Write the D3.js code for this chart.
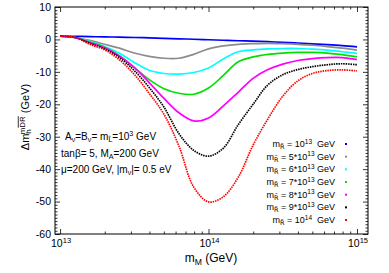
<!DOCTYPE html>
<html><head><meta charset="utf-8">
<script src="https://cdn.jsdelivr.net/npm/d3@7/dist/d3.min.js"></script>
<style>
body{margin:0;background:#fff}
text{font-family:"Liberation Sans",Arial,Helvetica,sans-serif;fill:#000}
</style>
</head><body>
<svg id="chart" width="389" height="273"></svg>
<script>
// m_M values (GeV)
const mM = [1.000e13,1.259e13,1.585e13,1.995e13,2.512e13,3.162e13,3.981e13,5.012e13,6.310e13,7.943e13,
            1.000e14,1.259e14,1.585e14,1.995e14,2.512e14,3.162e14,3.981e14,5.012e14,6.310e14,7.943e14,1.000e15];
// Δm_h (GeV) for each m_R̃
const dmR1e13 = [1.0,0.95,0.85,0.8,0.7,0.6,0.5,0.35,0.2,0.05,-0.1,-0.25,-0.4,-0.55,-0.7,-0.9,-1.1,-1.35,-1.6,-1.9,-2.3];
const dmR5e13 = [1.0,0.6,-0.3,-1.5,-2.7,-4.2,-5.2,-5.8,-5.8,-4.6,-2.9,-2.0,-1.5,-1.3,-1.2,-1.3,-1.5,-1.8,-2.2,-2.7,-3.3];
const dmR6e13 = [1.0,0.6,-0.6,-2.2,-4.3,-7.1,-9.5,-10.5,-10.7,-10.2,-8.8,-6.0,-3.8,-3.2,-2.9,-2.8,-2.8,-3.0,-3.3,-3.8,-4.3];
const dmR7e13 = [1.0,0.6,-0.8,-2.4,-5.0,-8.7,-12.4,-15.2,-16.6,-16.9,-15.0,-11.1,-6.9,-5.4,-4.6,-4.2,-4.0,-4.0,-4.2,-4.7,-5.4];
const dmR8e13 = [1.0,0.6,-1.0,-2.6,-5.2,-8.6,-13.3,-18.2,-22.6,-25.1,-24.2,-20.5,-16.3,-12.0,-9.3,-7.6,-6.5,-5.9,-5.6,-5.6,-6.2];
const dmR9e13 = [1.0,0.6,-1.2,-2.9,-5.6,-9.6,-14.8,-20.9,-29.0,-34.2,-36.0,-33.5,-26.3,-20.0,-14.0,-10.9,-9.3,-8.4,-7.8,-7.5,-7.8];
const dmR1e14 = [1.0,0.6,-1.5,-3.2,-6.3,-10.8,-16.6,-23.1,-32.8,-45.5,-50.1,-48.5,-42.5,-32.6,-24.5,-17.5,-12.8,-10.5,-9.6,-9.4,-9.7];

const legendCoef = ["", "5*", "6*", "7*", "8*", "9*", ""];
const legendExp  = ["13","13","13","13","13","13","14"];
const seriesColors = ["#0000ff","#8c8c8c","#00ffff","#00e000","#ff00ff","#000000","#ff0000"];
const seriesData = [dmR1e13,dmR5e13,dmR6e13,dmR7e13,dmR8e13,dmR9e13,dmR1e14];

const xMajor = [1e13,1e14,1e15];
const xMajorExp = ["13","14","15"];
const yMajor = [10,0,-10,-20,-30,-40,-50,-60];

const L=55, R=368, T=7, B=234;
const svg = d3.select("#chart");
const x = d3.scaleLog().domain([Math.pow(10,12.966), Math.pow(10,15.074)]).range([L,R]);
const y = d3.scaleLinear().domain([-60,10]).range([B,T]);

const xMinor = [];
for (let e=12;e<=15;e++) for (let k=2;k<=9;k++){const v=k*Math.pow(10,e); if(v>x.domain()[0]&&v<x.domain()[1]) xMinor.push(v);}
const yMinor = d3.range(-60,11,1).filter(v=>v%10!==0);

function rich(sel, parts, fs){
  let shift=0;
  parts.forEach(p=>{
    let target = p.k==="sup" ? -fs*0.38 : p.k==="sub" ? fs*0.22 : 0;
    const ts = sel.append("tspan").text(p.t).attr("dy", target-shift);
    if (p.k) ts.attr("font-size", fs*0.72);
    if (p.dx!==undefined) ts.attr("dx", p.dx);
    if (p.over) ts.style("text-decoration","overline");
    if (p.dv) ts.style("font-family","'DejaVu Sans'");
    shift = target;
  });
  return sel;
}

svg.append("clipPath").attr("id","clip").append("rect").attr("x",L).attr("y",T).attr("width",R-L).attr("height",B-T);

function styleAxis(g){ g.select(".domain").remove(); g.selectAll(".tick line").attr("stroke","#000").attr("stroke-width",0.8); }
svg.append("g").attr("transform",`translate(0,${B})`).call(d3.axisBottom(x).tickValues(xMajor).tickSize(-5).tickFormat("")).call(styleAxis);
svg.append("g").attr("transform",`translate(0,${B})`).call(d3.axisBottom(x).tickValues(xMinor).tickSize(-2.5).tickFormat("")).call(styleAxis);
svg.append("g").attr("transform",`translate(0,${T})`).call(d3.axisTop(x).tickValues(xMajor).tickSize(-5).tickFormat("")).call(styleAxis);
svg.append("g").attr("transform",`translate(0,${T})`).call(d3.axisTop(x).tickValues(xMinor).tickSize(-2.5).tickFormat("")).call(styleAxis);

const gy = svg.append("g").attr("transform",`translate(${L},0)`).call(d3.axisLeft(y).tickValues(yMajor).tickSize(-5).tickPadding(4).tickFormat(d=>String(d))).call(styleAxis);
gy.selectAll("text").attr("font-size",10.5).attr("font-family",null).attr("fill","#000");
svg.append("g").attr("transform",`translate(${L},0)`).call(d3.axisLeft(y).tickValues(yMinor).tickSize(-2.5).tickFormat("")).call(styleAxis);
svg.append("g").attr("transform",`translate(${R},0)`).call(d3.axisRight(y).tickValues(yMajor).tickSize(-5).tickFormat("")).call(styleAxis);
svg.append("g").attr("transform",`translate(${R},0)`).call(d3.axisRight(y).tickValues(yMinor).tickSize(-2.5).tickFormat("")).call(styleAxis);

xMajor.forEach((v,i)=>{
  const t = svg.append("text").attr("x",x(v)+1).attr("y",B+12.5).attr("text-anchor","middle").attr("font-size",10.5);
  rich(t,[{t:"10"},{t:xMajorExp[i],k:"sup"}],10.5);
});

svg.append("rect").attr("x",L).attr("y",T).attr("width",R-L).attr("height",B-T).attr("fill","none").attr("stroke","#000").attr("stroke-width",1);

const line = d3.line().x((d,i)=>x(mM[i])).y(d=>y(d)).curve(d3.curveCatmullRom.alpha(0.5));
const plot = svg.append("g").attr("clip-path","url(#clip)");
seriesData.forEach((s,i)=>{
  const p = plot.append("path").datum(s).attr("d",line).attr("fill","none")
    .attr("stroke",seriesColors[i]).attr("stroke-width",1.7);
  if (i>=5) p.attr("stroke-dasharray","1.5,0.9");
});

legendCoef.forEach((c,i)=>{
  const cy = 144 + i*12.67;
  const t = svg.append("text").attr("x",335).attr("y",cy+3).attr("text-anchor","end").attr("font-size",9)
    .style("white-space","pre");
  rich(t,[{t:"m"},{t:"R\u0303",k:"sub",dv:true},{t:" = "+c+"10"},{t:legendExp[i],k:"sup"},{t:(c===""?"  ":" ")+"GeV"}],9);
  svg.append("rect").attr("x",345).attr("y",cy-1).attr("width",2).attr("height",2).attr("fill",seriesColors[i]);
});

const a1 = svg.append("text").attr("x",65).attr("y",140).attr("font-size",10);
rich(a1,[{t:"A"},{t:"\u03bd",k:"sub"},{t:"=B"},{t:"\u03bd",k:"sub"},{t:"= m"},{t:"L\u0303",k:"sub",dv:true},{t:"=10"},{t:"3",k:"sup"},{t:" GeV"}],10);
const a2 = svg.append("text").attr("x",61).attr("y",156.5).attr("font-size",10);
rich(a2,[{t:"tan\u03b2= 5, M"},{t:"A",k:"sub"},{t:"=200 GeV"}],10);
const a3 = svg.append("text").attr("x",61).attr("y",172.5).attr("font-size",10);
rich(a3,[{t:"\u03bc=200 GeV, |m"},{t:"\u03bd",k:"sub"},{t:"|= 0.5 eV"}],10);

const xl = svg.append("text").attr("x",211).attr("y",262).attr("text-anchor","middle").attr("font-size",12);
rich(xl,[{t:"m"},{t:"M",k:"sub"},{t:" (GeV)"}],12);

const yl = svg.append("text").attr("transform","translate(29,117) rotate(-90)").attr("text-anchor","middle").attr("font-size",11);
rich(yl,[{t:"\u0394m"},{t:"h",k:"sub"},{t:"m",k:"sup",dx:-5},{t:"DR",k:"sup",over:true},{t:" (GeV)"}],11);
</script>
</body></html>
